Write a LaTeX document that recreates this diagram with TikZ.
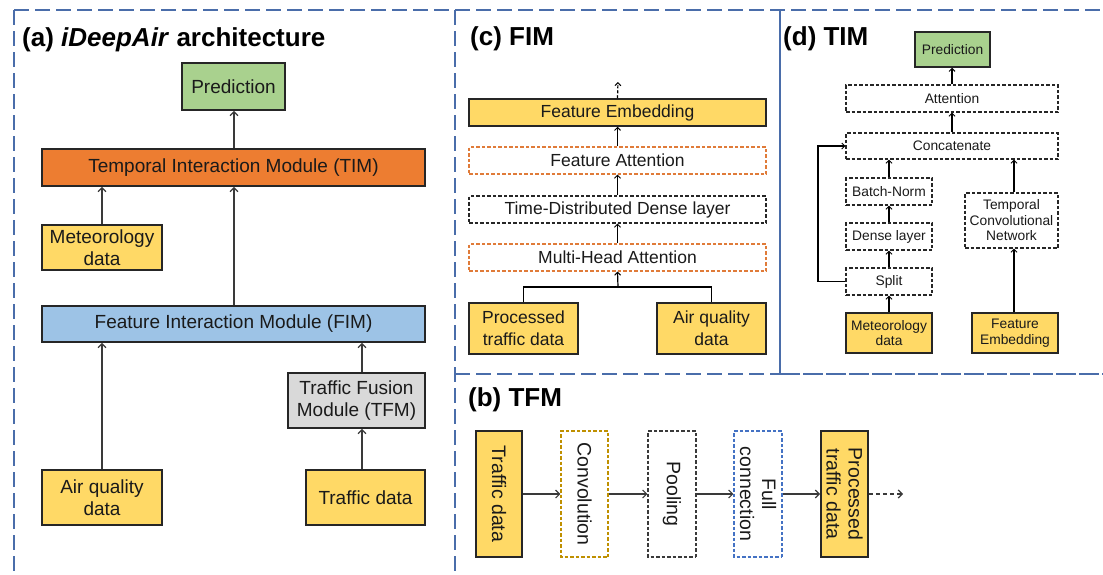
\documentclass[tikz,border=0pt]{standalone}
\usepackage{fontspec}
\setmainfont{Liberation Sans}
\usetikzlibrary{arrows.meta}
\definecolor{yel}{HTML}{FFD966}
\definecolor{grn}{HTML}{A9D18E}
\definecolor{org}{HTML}{ED7D31}
\definecolor{blu}{HTML}{9DC3E6}
\definecolor{gry}{HTML}{D9D9D9}
\definecolor{orgline}{HTML}{E07B39}
\definecolor{goldline}{HTML}{BF9000}
\definecolor{bluline}{HTML}{4472C4}
\definecolor{frame}{HTML}{4A6DAA}
\definecolor{boxline}{HTML}{262626}
\definecolor{arrline}{HTML}{3A3A3A}
\definecolor{txt}{HTML}{1A1A1A}
\newcommand\fsA{\fontsize{19}{21.5}\selectfont}
\newcommand\fsB{\fontsize{19.5}{22}\selectfont}
\newcommand\fsC{\fontsize{17.5}{22}\selectfont}
\newcommand\fsD{\fontsize{13.8}{15.5}\selectfont}
\newcommand\fsT{\fontsize{26}{30}\selectfont\bfseries}
\begin{document}
\begin{tikzpicture}[x=1pt,y=-1pt,
  framedash/.style={draw=frame, line width=1.8pt, dash pattern=on 15pt off 6pt},
  framesolid/.style={draw=frame, line width=1.8pt},
  sbox/.style={draw=boxline, line width=1.7pt, inner sep=0pt, align=center, text=txt},
  dbox/.style={draw=#1, line width=1.1pt, dash pattern=on 3.5pt off 2pt, inner sep=0pt, align=center, text=txt, fill=white},
  pa/.style={font=\fsA},
  pb/.style={font=\fsB},
  pc/.style={font=\fsC},
  pd/.style={font=\fsD},
  arr/.style={draw=arrline, line width=1.5pt, -{Straight Barb[length=4pt,width=8pt,line width=1.2pt]}},
  sarr/.style={draw=black, line width=1.2pt, -{Straight Barb[length=3pt,width=6pt,line width=1pt]}},
  ttl/.style={anchor=base west, inner sep=0pt, text=black, font=\fsT}
]
\useasboundingbox (0,0) rectangle (1103,574);

% frames
\draw[framedash] (14,10) -- (1103,10);
\draw[framedash] (14,10) -- (14,574);
\draw[framedash] (455,10) -- (455,574);
\draw[framesolid] (780,10) -- (780,374);
\draw[framedash] (455,374) -- (780,374);
\draw[draw=frame, line width=1.8pt, dash pattern=on 20pt off 3pt] (780,374) -- (1103,374);

% ---------------- (a)
\node[ttl] (ta) at (22,46) {(a) \textit{iDeepAir} architecture};
\node[sbox, pa, fill=grn, minimum width=103pt, minimum height=47pt] (pa) at (233.5,86.5) {Prediction};
\node[sbox, pa, fill=org, minimum width=383pt, minimum height=37pt] (tim) at (233.5,167.5) {Temporal Interaction Module (TIM)};
\node[sbox, pa, fill=yel, minimum width=120pt, minimum height=45pt] (meta) at (102,247.5) {Meteorology\\data};
\node[sbox, pa, fill=blu, minimum width=383pt, minimum height=36pt] (fim) at (233.5,324) {Feature Interaction Module (FIM)};
\node[sbox, pa, fill=gry, minimum width=137pt, minimum height=55pt] (tfm) at (356.5,400.5) {Traffic Fusion\\Module (TFM)};
\node[sbox, pa, fill=yel, minimum width=120pt, minimum height=55pt] (aqa) at (102,497.5) {Air quality\\data};
\node[sbox, pa, fill=yel, minimum width=119pt, minimum height=55pt] (tra) at (365.5,497.5) {Traffic data};
\coordinate (ax) at (362,0);
\coordinate (cx) at (234,0);
\draw[arr] (tim.north -| cx) -- (pa.south -| cx);
\draw[arr] (meta.north) -- (meta.north |- tim.south);
\draw[arr] (fim.north -| cx) -- (tim.south -| cx);
\draw[arr] (aqa.north) -- (aqa.north |- fim.south);
\draw[arr] (tfm.north -| ax) -- (fim.south -| ax);
\draw[arr] (tra.north -| ax) -- (tfm.south -| ax);

% ---------------- (c)
\node[ttl] (tc) at (470,45) {(c) FIM};
\node[sbox, pc, fill=yel, line width=1.5pt, minimum width=297pt, minimum height=27pt] (fe) at (617.5,112.5) {Feature Embedding};
\node[dbox=orgline, pc, minimum width=297pt, minimum height=27pt] (fa) at (617.5,160.5) {Feature Attention};
\node[dbox=boxline, pc, minimum width=297pt, minimum height=27pt] (tdd) at (617.5,209.5) {Time-Distributed Dense layer};
\node[dbox=orgline, pc, minimum width=297pt, minimum height=27pt] (mh) at (617.5,257.5) {Multi-Head Attention};
\node[sbox, pc, fill=yel, line width=1.5pt, minimum width=109pt, minimum height=51pt] (ptd) at (523.5,328.5) {Processed\\traffic data};
\node[sbox, pc, fill=yel, line width=1.5pt, minimum width=109pt, minimum height=51pt] (aqc) at (711.5,328.5) {Air quality\\data};
\coordinate (jc) at (618,287);
\coordinate (fout) at (618,82);
\draw[sarr, dash pattern=on 3pt off 2pt] (fe.north) -- (fout);
\draw[sarr] (fa.north) -- (fe.south);
\draw[sarr] (tdd.north) -- (fa.south);
\draw[sarr] (mh.north) -- (tdd.south);
\draw[line width=1.2pt] (ptd.north) |- (jc) -| (aqc.north);
\draw[sarr] (jc) -- (mh.south);

% ---------------- (d)
\node[ttl] (td) at (783,45) {(d) TIM};
\node[sbox, pd, fill=grn, line width=1.5pt, minimum width=75pt, minimum height=35pt] (pdn) at (952.5,49.5) {Prediction};
\node[dbox=boxline, pd, minimum width=212pt, minimum height=27pt] (att) at (952,98.5) {Attention};
\node[dbox=boxline, pd, minimum width=212pt, minimum height=26pt] (cat) at (952,146) {Concatenate};
\node[dbox=boxline, pd, minimum width=86pt, minimum height=27pt] (bn) at (889,191.5) {Batch-Norm};
\node[dbox=boxline, pd, minimum width=86pt, minimum height=27pt] (dl) at (889,236.5) {Dense layer};
\node[dbox=boxline, pd, minimum width=86pt, minimum height=27pt] (sp) at (889,281.5) {Split};
\node[sbox, pd, fill=yel, line width=1.5pt, minimum width=86pt, minimum height=40pt] (md) at (889,333) {Meteorology\\data};
\node[dbox=boxline, pd, minimum width=93pt, minimum height=55pt] (tcn) at (1011.5,220.5) {Temporal\\Convolutional\\Network};
\node[sbox, pd, fill=yel, line width=1.5pt, minimum width=86pt, minimum height=40pt] (fed) at (1015,333) {Feature\\Embedding};
\coordinate (dx) at (952,0);
\coordinate (ex) at (1014,0);
\coordinate (skip) at (818,281.5);
\draw[sarr] (att.north -| dx) -- (pdn.south -| dx);
\draw[sarr] (cat.north -| dx) -- (att.south -| dx);
\draw[sarr] (bn.north) -- (bn.north |- cat.south);
\draw[sarr] (dl.north) -- (bn.south);
\draw[sarr] (sp.north) -- (dl.south);
\draw[sarr] (md.north) -- (sp.south);
\draw[sarr] (tcn.north -| ex) -- (cat.south -| ex);
\draw[sarr] (fed.north -| ex) -- (tcn.south -| ex);
\draw[sarr] (sp.west) -- (skip) |- (cat.west);

% ---------------- (b)
\node[ttl] (tb) at (468,406) {(b) TFM};
\node[sbox, pb, fill=yel, rotate=-90, minimum width=126pt, minimum height=46pt] (td2) at (499,494) {Traffic data};
\node[dbox=goldline, pb, rotate=-90, minimum width=126pt, minimum height=47pt] (conv) at (584.5,494) {Convolution};
\node[dbox=arrline, pb, rotate=-90, minimum width=126pt, minimum height=48pt] (pool) at (672,494) {Pooling};
\node[dbox=bluline, pb, rotate=-90, minimum width=126pt, minimum height=48pt] (fc) at (758,494) {Full\\connection};
\node[sbox, pb, fill=yel, rotate=-90, minimum width=126pt, minimum height=47pt] (ptd2) at (844.5,494) {Processed\\traffic data};
\coordinate (bout) at (903,494);
\draw[arr] (td2.north) -- (conv.south);
\draw[arr] (conv.north) -- (pool.south);
\draw[arr] (pool.north) -- (fc.south);
\draw[arr] (fc.north) -- (ptd2.south);
\draw[arr, dash pattern=on 4pt off 3pt] (ptd2.north) -- (bout);
\end{tikzpicture}
\end{document}
